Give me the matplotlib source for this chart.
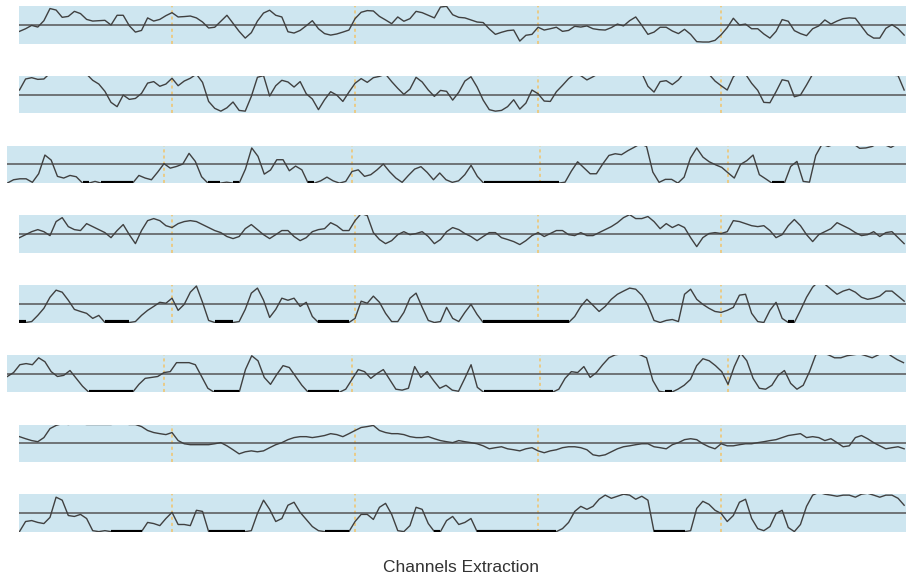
import numpy as np
import matplotlib.pyplot as plt

# eight extracted channels, 30 samples per segment, range clipped to [-1, 1]
ch1 = [-0.34, -0.2, -0.02, -0.11, 0.23, 0.88, 0.8, 0.41, 0.46, 0.73,
       0.61, 0.3, 0.21, 0.23, 0.25, 0.0, 0.52, 0.52, -0.04, -0.38,
       -0.29, 0.38, 0.21, 0.3, 0.5, 0.66, 0.43, 0.45, 0.48, 0.38,
       0.16, -0.16, -0.12, 0.2, 0.52, 0.09, -0.34, -0.7, -0.41, 0.21,
       0.64, 0.79, 0.52, 0.43, -0.36, -0.43, -0.29, -0.04, 0.23, -0.2,
       -0.46, -0.54, -0.48, -0.38, -0.27, 0.34, 0.68, 0.77, 0.75, 0.46,
       0.27, 0.07, 0.43, 0.2, 0.34, 0.73, 0.66, 0.52, 0.38, 0.96,
       1.0, 0.55, 0.41, 0.38, 0.27, 0.16, 0.13, -0.21, -0.5, -0.39,
       -0.3, -0.27, -0.86, -0.55, -0.5, -0.12, -0.27, -0.2, -0.12, -0.34,
       -0.29, -0.07, -0.11, -0.05, -0.2, -0.25, -0.27, -0.14, 0.05, -0.05,
       0.23, 0.43, -0.02, -0.5, -0.38, -0.12, -0.12, -0.32, -0.46, -0.23,
       -0.5, -0.89, -0.91, -0.91, -0.82, -0.52, -0.14, 0.36, 0.0, 0.05,
       -0.2, -0.2, -0.48, -0.7, -0.34, 0.29, 0.2, -0.3, -0.46, -0.57,
       -0.2, -0.05, 0.27, 0.05, 0.21, 0.34, 0.38, 0.36, -0.07, -0.5,
       -0.7, -0.7, -0.18, 0.02, -0.2, -0.54]
ch2 = [0.25, 0.84, 0.91, 0.82, 0.84, 1.15, 1.35, 1.5, 1.55, 1.5,
       1.35, 1.1, 0.77, 0.57, 0.18, -0.41, -0.64, -0.02, -0.25, -0.2,
       0.07, 0.62, 0.7, 0.45, 0.57, 0.88, 0.48, 0.73, 0.88, 1.1,
       0.66, -0.36, -0.73, -0.88, -0.7, -0.39, -0.84, -0.88, -0.09, 0.93,
       1.02, -0.07, 0.48, 0.77, 0.68, 0.41, 0.7, 0.05, -0.23, -0.8,
       -0.27, 0.16, -0.02, -0.36, 0.14, 0.61, 0.86, 0.66, 0.91, 0.98,
       1.1, 0.7, 0.34, 0.02, 0.3, 0.93, 0.68, 0.25, -0.09, 0.23,
       0.18, -0.29, 0.13, 0.73, 0.96, 0.41, -0.29, -0.8, -0.88, -0.84,
       -0.64, -0.27, -0.77, -0.45, 0.25, 0.05, -0.34, -0.36, 0.16, 0.5,
       0.86, 1.1, 1.02, 0.79, 0.96, 1.15, 1.3, 1.45, 1.55, 1.6,
       1.55, 1.4, 1.15, 0.45, 0.14, 0.7, 0.75, 0.54, 0.79, 1.2,
       1.4, 1.45, 1.35, 1.1, 0.73, 0.48, 0.25, 0.96, 1.25, 1.1,
       0.61, 0.23, -0.41, -0.43, 0.16, 0.8, 0.73, -0.11, -0.02, 0.52,
       1.1, 1.3, 1.45, 1.55, 1.6, 1.6, 1.55, 1.5, 1.45, 1.4,
       1.35, 1.25, 1.15, 1.05, 1.02, 0.25]
ch3 = [-1.0, -0.82, -0.77, -0.77, -0.96, -0.5, 0.5, 0.23, -0.64, -0.73,
       -0.59, -0.66, -1.0, -1.0, -0.91, -1.0, -1.0, -1.0, -1.0, -1.0,
       -1.0, -0.59, -0.73, -0.82, -0.41, 0.04, -0.2, -0.11, 0.02, 0.59,
       0.16, -0.66, -1.0, -1.0, -1.0, -0.95, -1.0, -1.0, -0.25, 0.88,
       0.43, -0.52, -0.3, 0.25, 0.25, -0.34, -0.09, -0.29, -1.0, -1.0,
       -0.88, -0.68, -0.88, -1.0, -0.91, -0.38, -0.29, -0.64, -0.55, -0.29,
       0.02, -0.39, -0.73, -0.96, -0.59, -0.25, -0.12, -0.43, -0.82, -0.46,
       -0.82, -0.96, -0.88, -0.55, -0.05, -0.64, -1.0, -1.0, -1.0, -1.0,
       -1.0, -1.0, -1.0, -1.0, -1.0, -1.0, -1.0, -1.0, -1.0, -0.95,
       -0.36, 0.14, -0.18, -0.5, -0.5, 0.02, 0.48, 0.57, 0.52, 0.73,
       0.91, 1.1, 0.96, -0.41, -0.96, -0.8, -0.8, -1.0, -0.68, 0.34,
       0.88, 0.39, 0.14, -0.02, -0.16, -0.45, -0.73, 0.0, 0.2, 0.5,
       -0.55, -0.77, -1.0, -1.0, -1.0, -0.11, 0.16, -0.91, -0.95, 0.48,
       1.08, 0.96, 1.1, 1.25, 1.25, 1.1, 0.86, 0.88, 0.96, 1.15,
       1.05, 0.91, 1.1, 1.15]
ch4 = [-0.19, -0.03, 0.13, 0.24, 0.13, -0.08, 0.67, 0.88, 0.4, 0.24,
       0.19, 0.56, 0.4, 0.24, 0.08, -0.19, 0.19, 0.51, -0.03, -0.51,
       0.19, 0.72, 0.83, 0.72, 0.45, 0.35, 0.56, 0.67, 0.72, 0.67,
       0.51, 0.35, 0.19, 0.08, -0.13, -0.24, -0.13, 0.29, 0.51, 0.24,
       -0.03, -0.24, -0.03, 0.19, 0.19, -0.13, -0.35, -0.19, 0.13, 0.24,
       0.29, 0.61, 0.45, 0.19, 0.19, 0.72, 1.1, 0.99, 0.08, -0.29,
       -0.51, -0.35, -0.03, 0.13, -0.03, 0.03, 0.13, -0.13, -0.51, -0.29,
       0.13, 0.35, 0.24, 0.03, -0.13, -0.35, -0.13, 0.08, 0.08, -0.19,
       -0.29, -0.4, -0.56, -0.35, -0.08, 0.08, -0.13, 0.03, 0.19, 0.19,
       -0.03, -0.08, 0.08, -0.08, -0.08, 0.08, 0.24, 0.4, 0.61, 0.88,
       1.04, 0.83, 0.83, 0.94, 0.67, 0.29, 0.56, 0.35, 0.51, 0.35,
       -0.19, -0.67, -0.19, 0.03, 0.08, 0.03, 0.13, 0.72, 0.67, 0.56,
       0.45, 0.4, 0.45, 0.19, -0.19, -0.03, 0.45, 0.78, 0.45, -0.03,
       -0.4, -0.03, 0.13, 0.29, 0.61, 0.45, 0.29, 0.08, -0.08, -0.03,
       0.13, -0.13, 0.08, 0.13, -0.19, -0.51]
ch5 = [-1.0, -1.0, -0.95, -0.62, -0.24, 0.35, 0.73, 0.62, 0.19, -0.3,
       -0.41, -0.51, -0.78, -0.62, -1.0, -1.0, -1.0, -1.0, -1.0, -0.95,
       -0.62, -0.35, -0.14, 0.08, 0.03, 0.3, -0.35, -0.03, 0.62, 0.95,
       0.08, -0.89, -1.0, -1.0, -1.0, -1.0, -0.95, -0.3, 0.57, 0.84,
       0.19, -0.73, -0.3, 0.3, 0.19, 0.3, -0.14, 0.08, -0.68, -1.0,
       -1.0, -1.0, -1.0, -1.0, -1.0, -0.78, 0.14, 0.03, 0.41, 0.08,
       -0.51, -0.95, -0.95, -0.46, 0.3, 0.57, -0.19, -0.89, -1.0, -0.95,
       -0.19, -0.78, -0.95, -0.46, -0.03, -0.57, -1.0, -1.0, -1.0, -1.0,
       -1.0, -1.0, -1.0, -1.0, -1.0, -1.0, -1.0, -1.0, -1.0, -1.0,
       -1.0, -0.68, -0.14, 0.24, -0.08, -0.41, -0.14, 0.24, 0.51, 0.68,
       0.84, 0.78, 0.46, -0.08, -0.89, -1.0, -0.89, -0.84, -0.95, 0.51,
       0.78, 0.24, -0.03, -0.24, -0.41, -0.46, -0.35, -0.19, 0.46, 0.51,
       -0.51, -0.95, -1.0, -0.35, 0.08, -0.78, -1.0, -1.0, -0.35, 0.35,
       0.89, 1.2, 1.05, 0.78, 0.51, 0.68, 0.78, 0.62, 0.35, 0.24,
       0.3, 0.41, 0.68, 0.68, 0.41, 0.14]
ch6 = [-0.16, 0.05, 0.47, 0.53, 0.47, 0.84, 0.63, 0.1, -0.16, -0.1,
       0.16, -0.26, -0.68, -1.0, -1.0, -1.0, -1.0, -1.0, -1.0, -1.0,
       -1.0, -0.58, -0.26, -0.21, -0.16, 0.05, 0.1, 0.58, 0.58, 0.58,
       0.47, -0.16, -0.79, -1.0, -1.0, -1.0, -1.0, -1.0, 0.21, 0.95,
       0.68, -0.21, -0.58, -0.05, 0.42, 0.32, -0.16, -0.63, -1.0, -1.0,
       -1.0, -1.0, -1.0, -1.0, -0.84, -0.32, 0.21, 0.1, -0.26, 0.0,
       0.21, -0.32, -0.84, -0.89, -0.79, 0.37, -0.21, 0.1, -0.37, -0.79,
       -0.63, -0.89, -0.95, -0.26, 0.47, -0.74, -1.0, -1.0, -1.0, -1.0,
       -1.0, -1.0, -1.0, -1.0, -1.0, -1.0, -1.0, -1.0, -0.84, -0.26,
       0.1, 0.05, 0.37, -0.21, 0.05, 0.47, 0.84, 1.0, 1.05, 1.2,
       1.1, 1.0, 0.84, -0.37, -0.95, -1.0, -1.0, -0.84, -0.63, -0.32,
       0.42, 0.79, 0.68, 0.42, 0.1, -0.58, 0.37, 1.1, 0.68, -0.26,
       -0.79, -0.84, -0.63, -0.1, 0.16, -0.53, -0.84, -0.63, 0.1, 1.0,
       1.1, 1.0, 0.84, 0.84, 0.95, 1.0, 1.05, 0.95, 0.84, 1.0,
       1.2, 0.95, 0.74, 0.58]
ch7 = [0.35, 0.24, 0.14, 0.08, 0.3, 0.78, 0.95, 1.05, 1.0, 1.05,
       1.05, 1.0, 1.0, 1.0, 1.0, 1.0, 1.05, 1.05, 1.0, 1.0,
       0.89, 0.68, 0.57, 0.51, 0.46, 0.57, 0.14, -0.03, -0.08, -0.08,
       -0.08, -0.08, -0.03, 0.03, -0.14, -0.35, -0.57, -0.46, -0.41, -0.46,
       -0.41, -0.24, -0.08, 0.03, 0.19, 0.3, 0.35, 0.35, 0.3, 0.35,
       0.41, 0.51, 0.46, 0.35, 0.51, 0.68, 0.84, 0.89, 0.95, 0.68,
       0.57, 0.51, 0.51, 0.46, 0.35, 0.3, 0.3, 0.35, 0.24, 0.14,
       0.08, 0.03, 0.14, 0.08, 0.03, -0.03, -0.14, -0.3, -0.24, -0.19,
       -0.3, -0.35, -0.41, -0.3, -0.24, -0.41, -0.51, -0.41, -0.35, -0.24,
       -0.19, -0.19, -0.24, -0.35, -0.62, -0.68, -0.62, -0.46, -0.3, -0.19,
       -0.14, -0.08, -0.03, -0.03, -0.19, -0.24, -0.3, -0.08, 0.03, 0.19,
       0.24, 0.19, -0.03, -0.19, -0.3, -0.03, -0.14, -0.14, -0.08, -0.03,
       -0.03, 0.03, 0.08, 0.14, 0.19, 0.3, 0.41, 0.46, 0.51, 0.3,
       0.35, 0.3, 0.14, 0.24, 0.03, -0.19, -0.14, 0.3, 0.41, 0.24,
       0.03, -0.14, -0.3, -0.24, -0.19, -0.3]
ch8 = [-1.0, -0.46, -0.41, -0.51, -0.57, -0.24, 0.84, 0.68, -0.14, -0.19,
       -0.08, -0.3, -0.95, -1.0, -0.95, -1.0, -1.0, -1.0, -1.0, -1.0,
       -1.0, -0.51, -0.57, -0.68, -0.3, 0.03, -0.62, -0.62, -0.68, 0.14,
       0.08, -1.0, -1.0, -1.0, -1.0, -1.0, -1.0, -1.0, -0.95, -0.03,
       0.68, 0.19, -0.46, -0.3, 0.41, 0.57, 0.03, -0.35, -0.73, -0.95,
       -1.0, -1.0, -1.0, -1.0, -1.0, -0.46, -0.08, -0.08, -0.35, 0.3,
       0.51, -0.08, -0.95, -1.0, -0.68, 0.3, 0.19, -0.57, -1.0, -1.0,
       -0.41, -0.19, -0.62, -0.51, -0.3, -1.0, -1.0, -1.0, -1.0, -1.0,
       -1.0, -1.0, -1.0, -1.0, -1.0, -1.0, -1.0, -1.0, -1.0, -0.84,
       -0.51, 0.08, 0.35, 0.19, 0.35, 0.73, 0.95, 0.78, 0.89, 1.0,
       0.95, 0.73, 0.89, 0.68, -1.0, -1.0, -1.0, -1.0, -1.0, -1.0,
       -0.95, 0.24, 0.62, 0.46, 0.14, -0.03, -0.46, -0.14, 0.57, 0.73,
       -0.3, -0.84, -0.95, -0.73, -0.03, 0.14, -0.78, -1.0, -0.62, 0.35,
       0.95, 1.1, 1.0, 0.95, 0.89, 0.95, 0.95, 0.84, 1.0, 1.05,
       0.95, 0.84, 0.95, 0.95, 0.78, 0.41]

channels = [ch1, ch2, ch3, ch4, ch5, ch6, ch7, ch8]
boundaries = [25, 55, 85, 115]
wide_rows = [2, 5]

W, H = 909, 577
fig = plt.figure(figsize=(W / 100, H / 100), dpi=100)

for k, vals in enumerate(channels):
    vals = np.array(vals)
    t = np.arange(len(vals))
    if k in wide_rows:
        left = 7
        xlim = (-0.05, 143.4)
    else:
        left = 19
        xlim = (-0.08, 145.3)
    top = 6.3 + 69.7 * k
    ax = fig.add_axes([left / W, 1 - (top + 37.4) / H, (906 - left) / W, 37.4 / H])
    ax.set_facecolor('#cee6f0')
    for s in ax.spines.values():
        s.set_visible(False)
    ax.set_xticks([])
    ax.set_yticks([])
    ax.set_xlim(*xlim)
    ax.set_ylim(-1, 1)

    ax.axhline(0, color='#555555', lw=1.1, zorder=2)
    for b in boundaries:
        ax.axvline(b, color='#f2c46a', lw=1.1, ls=(0, (2, 2)), zorder=1)
    ax.plot(t, vals, color='#404040', lw=1.0, zorder=3)
    # samples sitting on the floor drawn as a heavier black trace
    floor = np.where(vals <= -1, -1.0, np.nan)
    ax.plot(t, floor, color='black', lw=3, solid_capstyle='butt', zorder=4)

fig.text(461 / W, 1 - 567 / H, 'Channels Extraction', ha='center', va='center',
         fontsize=12.5, color='#333333', family='Liberation Sans')

fig.savefig('out.png', dpi=100)
